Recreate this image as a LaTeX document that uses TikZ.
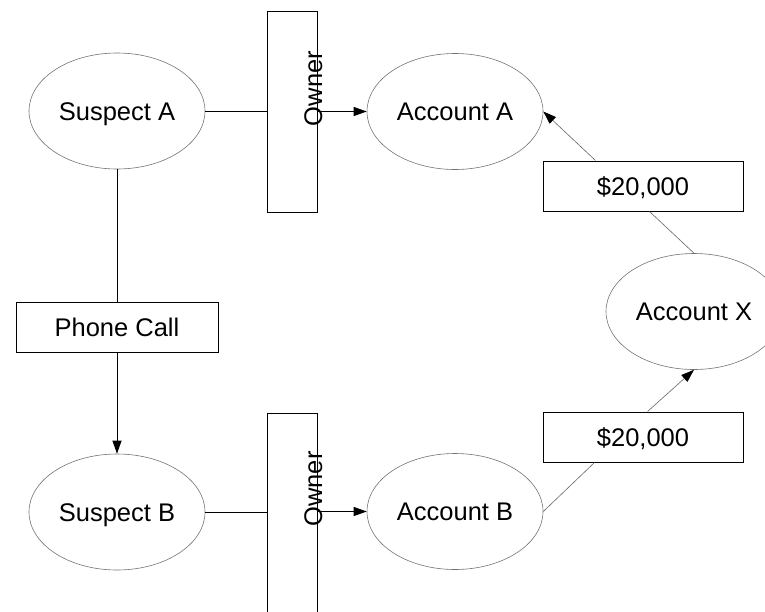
\documentclass[tikz,border=0pt]{standalone}
\usepackage{fontspec}
\setmainfont{Liberation Sans}
\usetikzlibrary{shapes.geometric,arrows.meta}
\tikzset{
  txt/.style={font=\fontsize{25.5}{30}\selectfont,text height=18.3pt,text depth=0pt},
  ell/.style={ellipse,draw=black!55,line width=0.6pt,minimum width=176pt,minimum height=116pt,inner sep=0pt,txt},
  box/.style={rectangle,draw=black,line width=1pt,inner sep=0pt,txt},
  ownertext/.style={rotate=90,inner sep=0pt,txt},
  conn/.style={draw=black,line width=1pt},
  thinconn/.style={draw=black!60,line width=0.6pt},
  tip/.style={-{Triangle[length=13pt,width=9pt,color=black,fill=black]}}
}
\begin{document}
\begin{tikzpicture}[x=1pt,y=-1pt]
\useasboundingbox (0,0) rectangle (765,611);
\clip (0,0) rectangle (765,611);
% nodes
\node[ell] (sa) at (117,111) {Suspect A};
\node[box,minimum width=50pt,minimum height=201pt] (oa) at (292,111.5) {};
\node[ownertext] (oat) at (313,88.5) {Owner};
\node[ell] (aa) at (455,111.5) {Account A};
\node[box,minimum width=202pt,minimum height=50pt] (pc) at (117,327) {Phone Call};
\node[ell] (sb) at (117,512) {Suspect B};
\node[box,minimum width=50pt,minimum height=247pt] (ob) at (292,536.5) {};
\node[ownertext] (obt) at (313,489) {Owner};
\node[ell] (ab) at (455,511.5) {Account B};
\node[box,minimum width=200pt,minimum height=50pt] (ub) at (643,186) {\$20,000};
\node[box,minimum width=200pt,minimum height=50pt] (lb) at (643,437) {\$20,000};
\node[ell] (ax) at (694,311.5) {Account X};
% connectors
\draw[conn] (sa.east) -- (sa.east -| oa.west);
\draw[conn,tip] (aa.west -| oa.east) -- (aa.west);
\draw[conn] (sa.south) -- (pc.north);
\draw[conn,tip] (pc.south) -- (sb.north);
\draw[conn] (sb.east) -- (sb.east -| ob.west);
\draw[conn,tip] (ab.west -| ob.east) -- (ab.west);
\draw[thinconn] (ab.east) -- ([xshift=52pt]lb.south west);
\draw[thinconn,tip] ([xshift=105pt]lb.north west) -- (ax.south);
\draw[thinconn] (ax.north) -- ([xshift=107pt]ub.south west);
\draw[thinconn,tip] ([xshift=53pt]ub.north west) -- (aa.east);
\end{tikzpicture}
\end{document}
